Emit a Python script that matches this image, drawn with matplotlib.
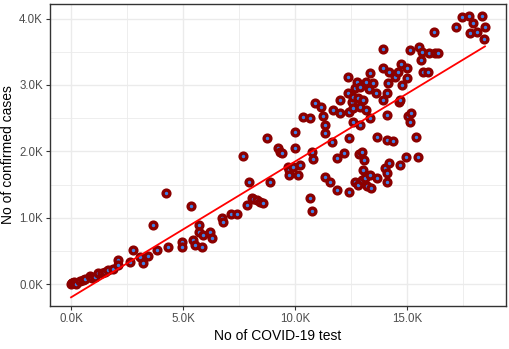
"""Casos confirmados vs. tests de COVID-19, con recta de regresión lineal."""
import numpy as np
import matplotlib
matplotlib.use('Agg')
import matplotlib.pyplot as plt
import matplotlib.ticker as mticker

# ─── Datos (leídos a ojo del gráfico original) ──────────────────────────────

tests = [
    0, 20, 50, 100, 150, 200, 400, 540, 630, 850,
    940, 1070, 1210, 1380, 1520, 1650, 1880, 2100, 2100, 2630,
    2770, 3080, 3210, 3440, 3660, 3840, 4240, 4330, 4960, 4960,
    5360, 5450, 5540, 5710, 5710, 5850, 5890, 6210, 6290, 6740,
    6790, 7140, 7410, 7680, 7860, 7950, 8080, 8130, 8300, 8440,
    8570, 8750, 8880, 9240, 9330, 9420, 9690, 9730, 9730, 9910,
    10000, 10000, 10130, 10220, 10360, 10670, 10670, 10760, 10760, 10800,
    10890, 11160, 11250, 11340, 11340, 11340, 11560, 11700, 11650, 11880,
    11880, 12000, 12000, 12190, 12370, 12370, 12410, 12410, 12410, 12540,
    12590, 12590, 12590, 12680, 12680, 12770, 12810, 12810, 12860, 12900,
    12900, 12900, 12990, 12990, 13040, 13040, 13080, 13170, 13170, 13130,
    13210, 13300, 13350, 13350, 13350, 13390, 13480, 13620, 13660, 13660,
    13930, 13930, 13930, 14020, 14110, 14110, 14110, 14110, 14110, 14150,
    14200, 14200, 14380, 14460, 14600, 14640, 14690, 14690, 14730, 14780,
    14960, 15000, 15000, 15040, 15130, 15130, 15180, 15400, 15490, 15540,
    15630, 15670, 15710, 15940, 15980, 16210, 16250, 16380, 17190, 17460,
    17770, 17810, 17950, 18130, 18350, 18480, 18440,
]

cases = [
    0, 15, 10, 20, 30, 5, 45, 60, 75, 120,
    90, 105, 165, 165, 180, 210, 225, 360, 290, 330,
    510, 410, 320, 420, 890, 510, 1370, 560, 630, 560,
    1180, 660, 590, 890, 780, 560, 740, 780, 690, 1000,
    940, 1060, 1060, 1930, 1190, 1540, 1300, 1280, 1270, 1240,
    1220, 2200, 1540, 2050, 1990, 1980, 1760, 1720, 1640, 1760,
    2290, 2050, 1640, 1790, 2520, 2500, 1300, 1100, 1990, 1890,
    2730, 2670, 2530, 2400, 2280, 1610, 1540, 2620, 2140, 1900,
    1420, 2780, 2580, 1980, 3120, 2880, 2590, 2200, 1390, 2750,
    2820, 2650, 2440, 2960, 1540, 3050, 2810, 1490, 1960, 2970,
    2670, 2400, 1990, 1570, 2780, 1720, 1870, 3050, 2620, 1600,
    1480, 2940, 3180, 2500, 1640, 1450, 3030, 2880, 2220, 1600,
    3540, 3260, 2780, 1750, 2880, 2550, 2170, 1670, 1540, 3030,
    3200, 1830, 2160, 3120, 3200, 2750, 2780, 1790, 3320, 3000,
    1920, 3260, 3110, 2530, 3530, 2440, 2580, 2220, 1920, 3570,
    3380, 3500, 3200, 3200, 3480, 3800, 3480, 3480, 3880, 4030,
    4040, 3790, 3940, 3800, 4040, 3880, 3700,
]

x_ticks = [0, 5000, 10000, 15000]
y_ticks = [0, 1000, 2000, 3000, 4000]

assert len(tests) == len(cases)

# ─── Estilo tipo theme_bw ────────────────────────────────────────────────────

plt.rcParams['font.family'] = ['Liberation Sans', 'DejaVu Sans']
GRID = '#EBEBEB'
BORDER = '#333333'
TICK_TXT = '#4D4D4D'

fig = plt.figure(figsize=(5.10, 3.49), dpi=100)
ax = fig.add_axes([50 / 510, 43 / 349, 456 / 510, 302 / 349])

x = np.array(tests, dtype=float)
y = np.array(cases, dtype=float)

# Recta de mínimos cuadrados (como geom_smooth(method="lm", se=FALSE))
slope, intercept = np.polyfit(x, y, 1)
xs = np.linspace(x.min(), x.max(), 50)

ax.scatter(x, y, s=24, facecolor='#3C80E6', edgecolor='#8B0000',
           linewidths=2.4, zorder=3)
ax.plot(xs, slope * xs + intercept, color='#FF0000', linewidth=1.3, zorder=4)

ax.set_xlim(-940, 19420)
ax.set_ylim(-330, 4220)

ax.xaxis.set_major_locator(mticker.FixedLocator(x_ticks))
ax.yaxis.set_major_locator(mticker.FixedLocator(y_ticks))
ax.xaxis.set_minor_locator(mticker.MultipleLocator(2500))
ax.yaxis.set_minor_locator(mticker.MultipleLocator(500))
fmt = mticker.FuncFormatter(lambda v, _: f'{v / 1000:.1f}K')
ax.xaxis.set_major_formatter(fmt)
ax.yaxis.set_major_formatter(fmt)

ax.grid(True, which='major', color=GRID, linewidth=1.0)
ax.grid(True, which='minor', color=GRID, linewidth=0.6)
ax.set_axisbelow(True)

ax.tick_params(which='major', length=3, width=0.8, color=BORDER,
               labelsize=8.3, labelcolor=TICK_TXT, pad=2)
ax.tick_params(which='minor', length=0)
for sp in ax.spines.values():
    sp.set_color(BORDER)
    sp.set_linewidth(1.0)

ax.set_xlabel('No of COVID-19 test', fontsize=10, color='black', labelpad=3)
ax.set_ylabel('No of confirmed cases', fontsize=10, color='black', labelpad=3)

fig.savefig('out.png', dpi=100)
